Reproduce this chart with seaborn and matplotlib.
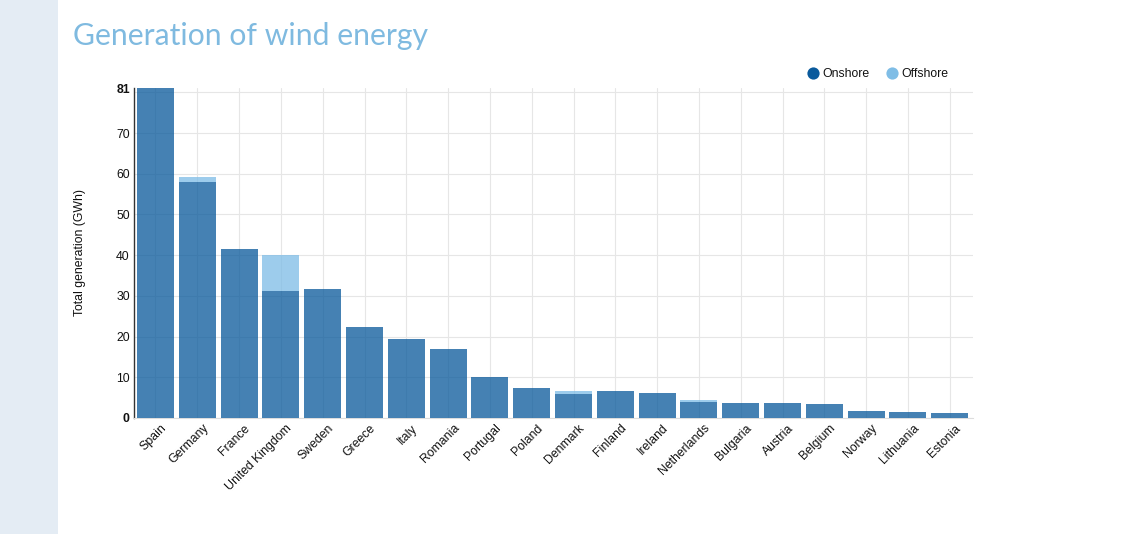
import matplotlib
matplotlib.use('Agg')
import matplotlib.pyplot as plt
import matplotlib.patches as mpatches
import matplotlib.transforms as mtransforms
from matplotlib.lines import Line2D
import seaborn as sns
import pandas as pd

countries = ['Spain', 'Germany', 'France', 'United Kingdom', 'Sweden', 'Greece', 'Italy', 'Romania',
             'Portugal', 'Poland', 'Denmark', 'Finland', 'Ireland', 'Netherlands', 'Bulgaria',
             'Austria', 'Belgium', 'Norway', 'Lithuania', 'Estonia']
onshore = [81, 58, 41.5, 31.3, 31.8, 22.3, 19.5, 17, 10, 7.4, 5.9, 6.6, 6.1, 4, 3.6, 3.6, 3.4, 1.6, 1.4, 1.2]
offshore = [0, 1.2, 0, 8.7, 0, 0, 0, 0, 0, 0, 0.8, 0, 0, 0.5, 0, 0, 0, 0, 0, 0]
yticks = [0, 10, 20, 30, 40, 50, 60, 70, 80]
ymax = 81

onshoreColor = '#0A5A9C'
offshoreColor = '#7FBDE6'
W, H = 1132, 534

sns.set_theme(style='white')
plt.rcParams['font.family'] = ['Liberation Sans', 'DejaVu Sans']

df = pd.DataFrame({'country': countries, 'onshore': onshore, 'offshore': offshore})

fig = plt.figure(figsize=(W / 100, H / 100), dpi=100)
fig.patches.append(mpatches.Rectangle((0, 0), 58 / W, 1, transform=fig.transFigure, color='#E4ECF4', lw=0))

# axes placed in pixels of the original
left, right, top, bottom = 134, 973, 88.3, 418
ax = fig.add_axes([left / W, 1 - bottom / H, (right - left) / W, (bottom - top) / H])

sns.barplot(data=df, x='country', y='onshore', color=onshoreColor, alpha=0.76, width=0.885,
            saturation=1, ax=ax, zorder=3, linewidth=0)
sns.barplot(data=df, x='country', y='offshore', bottom=df['onshore'], color=offshoreColor, alpha=0.76,
            width=0.885, saturation=1, ax=ax, zorder=3, linewidth=0)

ax.set_xlim(-0.514, 19.556)
ax.set_ylim(0, ymax)
ax.set_xlabel('')
ax.set_ylabel('')

ax.set_yticks(yticks)
ax.set_yticklabels([str(t) if t != 80 else '' for t in yticks], fontsize=8.8, color='#111111')
ax.set_yticks([ymax], minor=True)
ax.set_yticklabels([str(ymax)], minor=True, fontsize=8.8, fontweight='bold', color='#111111')
ax.get_yticklabels()[0].set_fontweight('bold')
ax.tick_params(axis='y', which='both', length=0, pad=3)
ax.tick_params(axis='x', length=0, pad=3)
ax.grid(True, which='major', color='#E6E6E6', linewidth=0.8, zorder=0)
ax.set_axisbelow(True)

offset = mtransforms.ScaledTranslation(5 / 100, 0, fig.dpi_scale_trans)
for lbl in ax.get_xticklabels():
    lbl.set_rotation(45)
    lbl.set_ha('right')
    lbl.set_va('top')
    lbl.set_rotation_mode('anchor')
    lbl.set_fontsize(8.8)
    lbl.set_color('#111111')
    lbl.set_transform(lbl.get_transform() + offset)

sns.despine(ax=ax, top=True, right=True)
ax.spines['left'].set_color('#333333')
ax.spines['left'].set_linewidth(1)
ax.spines['bottom'].set_color('#DDDDDD')
ax.spines['bottom'].set_linewidth(0.8)

fig.text(79.5 / W, 1 - 253 / H, 'Total generation (GWh)', rotation=90, ha='center', va='center',
         fontsize=8.8, color='#111111')
fig.text(73 / W, 1 - 45 / H, 'Generation of wind energy', fontsize=21.7, color='#7FBAE0',
         family='Lato', ha='left', va='baseline')

handles = [Line2D([], [], marker='o', ls='', ms=8.8, color=onshoreColor, mew=0, label='Onshore'),
           Line2D([], [], marker='o', ls='', ms=8.8, color=offshoreColor, mew=0, label='Offshore')]
fig.legend(handles=handles, loc='center left', bbox_to_anchor=(806 / W, 1 - 74 / H), ncol=2, frameon=False,
           fontsize=8.8, handlelength=1.1, handletextpad=0.2, columnspacing=1.35, borderpad=0, borderaxespad=0,
           labelcolor='#111111')

fig.savefig('out.png', dpi=100)
